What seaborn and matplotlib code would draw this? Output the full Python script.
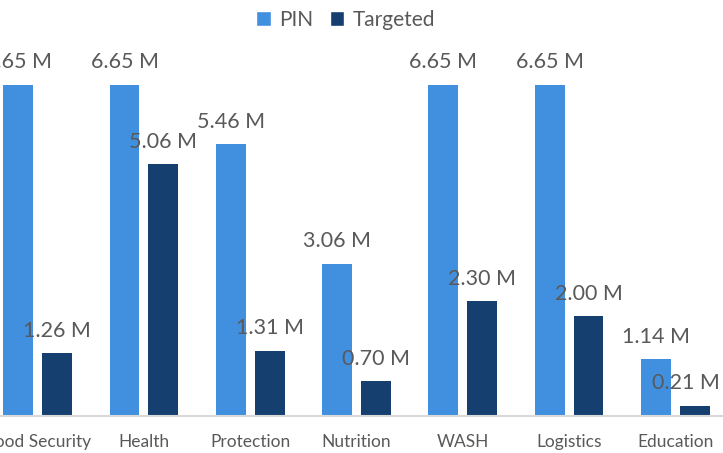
import matplotlib
matplotlib.use("Agg")
import matplotlib.pyplot as plt
import seaborn as sns
import pandas as pd
from matplotlib.patches import Patch

categories = ["Food Security", "Health", "Protection", "Nutrition", "WASH", "Logistics", "Education"]
pin = [6.65, 6.65, 5.46, 3.06, 6.65, 6.65, 1.14]
targeted = [1.26, 5.06, 1.31, 0.70, 2.30, 2.00, 0.21]
series = ["PIN", "Targeted"]
colors = ["#4190DF", "#143F6F"]

df = pd.DataFrame({
    "cat": categories * 2,
    "val": pin + targeted,
    "series": [series[0]] * len(categories) + [series[1]] * len(categories),
})

sns.set_theme(style="white")
plt.rcParams["font.family"] = ["Lato", "DejaVu Sans"]
text_color = "#595959"

fig = plt.figure(figsize=(7.23, 4.53), dpi=100)
ax = fig.add_axes([-15.5 / 723, 37 / 453, 744 / 723, 373.5 / 453])

sns.barplot(data=df, x="cat", y="val", hue="series", palette=colors,
            width=0.73, gap=0.23, ax=ax, linewidth=0, saturation=1, legend=False)

ax.set_xlim(-0.5, 6.5)
ax.set_ylim(0, 7.5)
label_sets = []
for c in ax.containers:
    label_sets.append(ax.bar_label(c, fmt="%.2f M", padding=9, fontsize=15.5, color=text_color))
# keep the last label inside the chart area, as the original does
last = label_sets[-1][-1]
last.xyann = (-6.5, 9)

for s in ["left", "right", "top"]:
    ax.spines[s].set_visible(False)
ax.spines["bottom"].set_color("#D9D9D9")
ax.spines["bottom"].set_linewidth(1.5)
ax.set_yticks([])
ax.set_xlabel("")
ax.set_ylabel("")
ax.tick_params(axis="x", length=0, pad=13, labelsize=12.5, labelcolor=text_color)

handles = [Patch(facecolor=colors[0]), Patch(facecolor=colors[1])]
fig.legend(handles, series, loc="upper center", bbox_to_anchor=(0.478, 1.02), ncol=2,
           frameon=False, fontsize=15, labelcolor=text_color, handlelength=0.7,
           handleheight=0.7, handletextpad=0.4, columnspacing=0.8)

fig.savefig("out.png", dpi=100)
